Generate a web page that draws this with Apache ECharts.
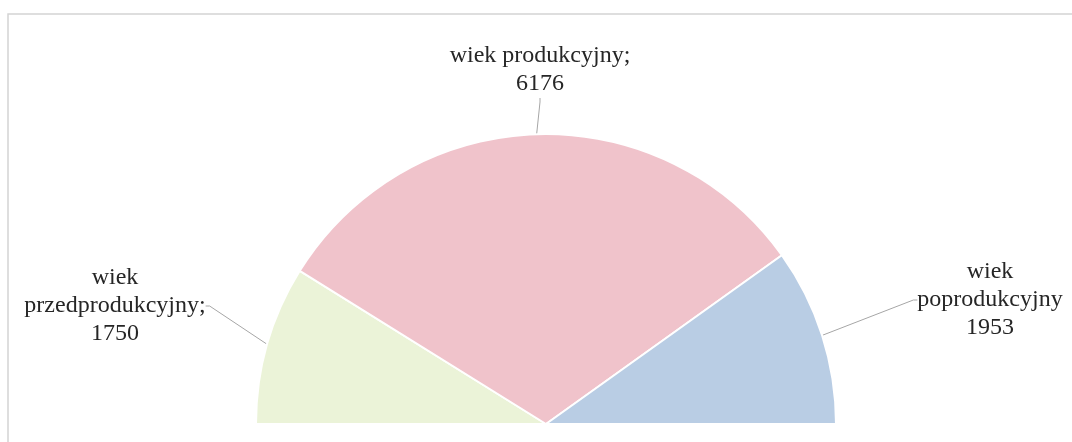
<!DOCTYPE html>
<html><head><meta charset="utf-8">
<script src="https://cdn.jsdelivr.net/npm/echarts@6/dist/echarts.min.js"></script>
<style>html,body{margin:0;padding:0;background:#fff}#c{width:1072px;height:442px}</style>
</head><body><div id="c"></div>
<script>
const categories = ['wiek przedprodukcyjny', 'wiek produkcyjny', 'wiek poprodukcyjny'];
const values = [1750, 6176, 1953];
const labelTexts = ['wiek\nprzedprodukcyjny;\n1750', 'wiek produkcyjny;\n6176', 'wiek\npoprodukcyjny\n1953'];
const colors = ['#ebf3d8', '#f0c3cb', '#b9cde4'];
const labelPos = [[115, 306], [540, 70], [990, 300]];

const chart = echarts.init(document.getElementById('c'));
chart.setOption({
  animation: false,
  graphic: [{ type: 'rect', shape: { x: 8, y: 14, width: 1100, height: 500 }, style: { fill: 'none', stroke: '#d4d4d4', lineWidth: 1.5 }, silent: true }],
  series: [{
    type: 'pie',
    center: [546, 424],
    radius: [0, 290],
    startAngle: 180,
    endAngle: 0,
    clockwise: true,
    data: categories.map((n, i) => ({ name: n, value: values[i], itemStyle: { color: colors[i] } })),
    itemStyle: { borderColor: '#ffffff', borderWidth: 2 },
    label: {
      show: true,
      position: 'outside',
      formatter: p => labelTexts[p.dataIndex],
      fontFamily: 'Liberation Serif',
      fontSize: 24,
      lineHeight: 28,
      color: '#262626',
      align: 'center'
    },
    labelLine: { show: true, lineStyle: { color: '#a6a6a6', width: 1 }, length: 20, length2: 4 },
    labelLayout: function (p) {
      const pos = labelPos[p.dataIndex];
      return { x: pos[0], y: pos[1], align: 'center', verticalAlign: 'middle', moveOverlap: false };
    }
  }]
});
</script></body></html>
